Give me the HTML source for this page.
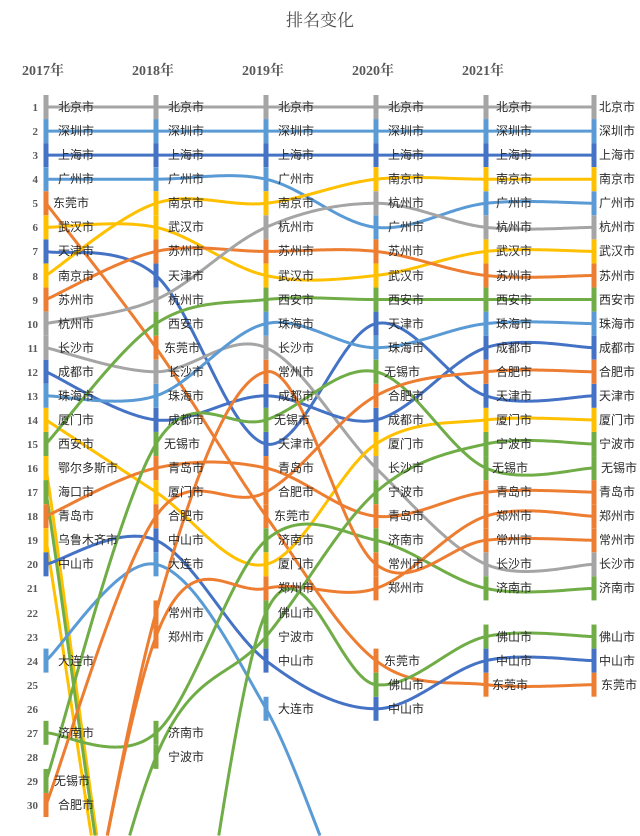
<!DOCTYPE html>
<html><head><meta charset="utf-8">
<style>
html,body{margin:0;padding:0;background:#fff;width:640px;height:836px;overflow:hidden;}
svg{display:block;overflow:hidden;}
.t{font-family:"Liberation Serif","Noto Serif CJK SC",serif;}
.l text{font-family:"Liberation Sans","Noto Sans CJK SC",sans-serif;font-size:12px;fill:#2a2a2a;}
.r text{font-family:"Liberation Serif",serif;font-size:11px;font-weight:bold;fill:#595959;text-anchor:end;}
.y text{font-family:"Liberation Serif","Noto Serif CJK SC",serif;font-size:14px;font-weight:bold;fill:#595959;}
</style></head><body>
<svg id="s" width="640" height="836" viewBox="0 0 640 836" xmlns="http://www.w3.org/2000/svg">
<text class="t" x="320" y="26" text-anchor="middle" font-size="17" fill="#505050">排名变化</text>
<g class="y">
<text x="22" y="75">2017年</text><text x="132" y="75">2018年</text><text x="242" y="75">2019年</text><text x="352" y="75">2020年</text><text x="462" y="75">2021年</text>
</g>
<g class="r">
<text x="38" y="111">1</text><text x="38" y="135">2</text><text x="38" y="159">3</text><text x="38" y="183">4</text><text x="38" y="207">5</text><text x="38" y="231">6</text><text x="38" y="255">7</text><text x="38" y="280">8</text><text x="38" y="304">9</text><text x="38" y="328">10</text><text x="38" y="352">11</text><text x="38" y="376">12</text><text x="38" y="400">13</text><text x="38" y="424">14</text><text x="38" y="448">15</text><text x="38" y="472">16</text><text x="38" y="496">17</text><text x="38" y="520">18</text><text x="38" y="544">19</text><text x="38" y="568">20</text><text x="38" y="592">21</text><text x="38" y="617">22</text><text x="38" y="641">23</text><text x="38" y="665">24</text><text x="38" y="689">25</text><text x="38" y="713">26</text><text x="38" y="737">27</text><text x="38" y="761">28</text><text x="38" y="785">29</text><text x="38" y="809">30</text>
</g>
<g id="lines"></g>
<g id="marks"></g>
<g class="l">
<text x="58" y="111">北京市</text><text x="58" y="135">深圳市</text><text x="58" y="159">上海市</text><text x="58" y="183">广州市</text><text x="53" y="207">东莞市</text><text x="58" y="231">武汉市</text><text x="58" y="255">天津市</text><text x="58" y="280">南京市</text><text x="58" y="304">苏州市</text><text x="58" y="328">杭州市</text><text x="58" y="352">长沙市</text><text x="58" y="376">成都市</text><text x="58" y="400">珠海市</text><text x="58" y="424">厦门市</text><text x="58" y="448">西安市</text><text x="58" y="472">鄂尔多斯市</text><text x="58" y="496">海口市</text><text x="58" y="520">青岛市</text><text x="58" y="544">乌鲁木齐市</text><text x="58" y="568">中山市</text><text x="58" y="665">大连市</text><text x="58" y="737">济南市</text><text x="54" y="785">无锡市</text><text x="58" y="809">合肥市</text>

<text x="168" y="111">北京市</text><text x="168" y="135">深圳市</text><text x="168" y="159">上海市</text><text x="168" y="183">广州市</text><text x="168" y="207">南京市</text><text x="168" y="231">武汉市</text><text x="168" y="255">苏州市</text><text x="168" y="280">天津市</text><text x="168" y="304">杭州市</text><text x="168" y="328">西安市</text><text x="164" y="352">东莞市</text><text x="168" y="376">长沙市</text><text x="168" y="400">珠海市</text><text x="168" y="424">成都市</text><text x="164" y="448">无锡市</text><text x="168" y="472">青岛市</text><text x="168" y="496">厦门市</text><text x="168" y="520">合肥市</text><text x="168" y="544">中山市</text><text x="168" y="568">大连市</text><text x="168" y="617">常州市</text><text x="168" y="641">郑州市</text><text x="168" y="737">济南市</text><text x="168" y="761">宁波市</text>

<text x="278" y="111">北京市</text><text x="278" y="135">深圳市</text><text x="278" y="159">上海市</text><text x="278" y="183">广州市</text><text x="278" y="207">南京市</text><text x="278" y="231">杭州市</text><text x="278" y="255">苏州市</text><text x="278" y="280">武汉市</text><text x="278" y="304">西安市</text><text x="278" y="328">珠海市</text><text x="278" y="352">长沙市</text><text x="278" y="376">常州市</text><text x="278" y="400">成都市</text><text x="274" y="424">无锡市</text><text x="278" y="448">天津市</text><text x="278" y="472">青岛市</text><text x="278" y="496">合肥市</text><text x="274" y="520">东莞市</text><text x="278" y="544">济南市</text><text x="278" y="568">厦门市</text><text x="278" y="592">郑州市</text><text x="278" y="617">佛山市</text><text x="278" y="641">宁波市</text><text x="278" y="665">中山市</text><text x="278" y="713">大连市</text>

<text x="388" y="111">北京市</text><text x="388" y="135">深圳市</text><text x="388" y="159">上海市</text><text x="388" y="183">南京市</text><text x="388" y="207">杭州市</text><text x="388" y="231">广州市</text><text x="388" y="255">苏州市</text><text x="388" y="280">武汉市</text><text x="388" y="304">西安市</text><text x="388" y="328">天津市</text><text x="388" y="352">珠海市</text><text x="384" y="376">无锡市</text><text x="388" y="400">合肥市</text><text x="388" y="424">成都市</text><text x="388" y="448">厦门市</text><text x="388" y="472">长沙市</text><text x="388" y="496">宁波市</text><text x="388" y="520">青岛市</text><text x="388" y="544">济南市</text><text x="388" y="568">常州市</text><text x="388" y="592">郑州市</text><text x="384" y="665">东莞市</text><text x="388" y="689">佛山市</text><text x="388" y="713">中山市</text>

<text x="496" y="111">北京市</text><text x="496" y="135">深圳市</text><text x="496" y="159">上海市</text><text x="496" y="183">南京市</text><text x="496" y="207">广州市</text><text x="496" y="231">杭州市</text><text x="496" y="255">武汉市</text><text x="496" y="280">苏州市</text><text x="496" y="304">西安市</text><text x="496" y="328">珠海市</text><text x="496" y="352">成都市</text><text x="496" y="376">合肥市</text><text x="496" y="400">天津市</text><text x="496" y="424">厦门市</text><text x="496" y="448">宁波市</text><text x="492" y="472">无锡市</text><text x="496" y="496">青岛市</text><text x="496" y="520">郑州市</text><text x="496" y="544">常州市</text><text x="496" y="568">长沙市</text><text x="496" y="592">济南市</text><text x="496" y="641">佛山市</text><text x="496" y="665">中山市</text><text x="492" y="689">东莞市</text>

<text x="599" y="111">北京市</text><text x="599" y="135">深圳市</text><text x="599" y="159">上海市</text><text x="599" y="183">南京市</text><text x="599" y="207">广州市</text><text x="599" y="231">杭州市</text><text x="599" y="255">武汉市</text><text x="599" y="280">苏州市</text><text x="599" y="304">西安市</text><text x="599" y="328">珠海市</text><text x="599" y="352">成都市</text><text x="599" y="376">合肥市</text><text x="599" y="400">天津市</text><text x="599" y="424">厦门市</text><text x="599" y="448">宁波市</text><text x="601" y="472">无锡市</text><text x="599" y="496">青岛市</text><text x="599" y="520">郑州市</text><text x="599" y="544">常州市</text><text x="599" y="568">长沙市</text><text x="599" y="592">济南市</text><text x="599" y="641">佛山市</text><text x="599" y="665">中山市</text><text x="601" y="689">东莞市</text>
</g>
</svg>
<script>
(function(){
var G="#A5A5A5",LB="#5B9BD5",DB="#4472C4",O="#ED7D31",Y="#FFC000",GR="#70AD47";
var X=[46,156,266,376,486,594],YMAX=836;
function yy(r){return 107+(r-1)*24.07;}
var d=[
[G,[1,1,1,1,1,1]],[LB,[2,2,2,2,2,2]],[DB,[3,3,3,3,3,3]],[LB,[4,4,4,6,5,5]],
[O,[5,11,18,24,25,25]],[Y,[6,6,8,8,7,7]],[DB,[7,8,15,10,13,13]],[Y,[8,5,5,4,4,4]],
[O,[9,7,7,7,8,8]],[G,[10,9,6,5,6,6]],[G,[11,12,11,16,20,20]],[DB,[12,14,13,14,11,11]],
[LB,[13,13,10,11,10,10]],[Y,[14,17,20,15,14,14]],[GR,[15,10,9,9,9,9]],
[Y,[16,0,0,0,0,0]],[GR,[17,0,0,0,0,0]],[O,[18,16,16,18,17,17]],[Y,[19,0,0,0,0,0]],
[DB,[20,19,24,26,24,24]],[LB,[24,20,26,0,0,0],36],[GR,[27,27,19,19,21,21]],
[GR,[29,15,14,12,16,16]],[O,[30,18,17,13,12,12]],[O,[0,22,12,20,19,19]],
[O,[0,23,21,21,18,18]],[GR,[0,28,23,17,15,15]],[GR,[0,0,22,25,23,23]]
];
var L=document.getElementById("lines"),M=document.getElementById("marks"),ns="http://www.w3.org/2000/svg";
function bz(a,b,c,e,t){var u=1-t;return u*u*u*a+3*u*u*t*b+3*u*t*t*c+t*t*t*e;}
d.forEach(function(c){
  var col=c[0],r=c[1],miss=c[2]||45;
  var p=r.map(function(v,i){return [X[i],yy(v||miss)];});
  var k=1/6,pts=[];
  for(var i=0;i<p.length-1;i++){
    if(!r[i]&&!r[i+1]) continue;
    var p0=p[i-1]||p[i],p1=p[i],p2=p[i+1],p3=p[i+2]||p2;
    var c1x=p1[0]+(p2[0]-p0[0])*k,c1y=p1[1]+(p2[1]-p0[1])*k;
    var c2x=p2[0]-(p3[0]-p1[0])*k,c2y=p2[1]-(p3[1]-p1[1])*k;
    var seg=[];
    for(var j=0;j<=60;j++){var t=j/60;seg.push([bz(p1[0],c1x,c2x,p2[0],t),bz(p1[1],c1y,c2y,p2[1],t)]);}
    pts.push(seg);
  }
  var s="";
  pts.forEach(function(seg){
    var open=false;
    for(var j=0;j<seg.length;j++){
      var q=seg[j];
      if(q[1]<=YMAX){
        if(!open){
          if(j>0){var a=seg[j-1],f=(YMAX-0.5-a[1])/(q[1]-a[1]);s+=" M"+(a[0]+(q[0]-a[0])*f).toFixed(2)+","+(YMAX-0.5);s+=" L"+q[0].toFixed(2)+","+q[1].toFixed(2);}
          else s+=" M"+q[0].toFixed(2)+","+q[1].toFixed(2);
          open=true;
        } else s+=" L"+q[0].toFixed(2)+","+q[1].toFixed(2);
      } else if(open){
        var a=seg[j-1],f=(YMAX-0.5-a[1])/(q[1]-a[1]);
        s+=" L"+(a[0]+(q[0]-a[0])*f).toFixed(2)+","+(YMAX-0.5);
        open=false;
      }
    }
  });
  if(s){
    var e=document.createElementNS(ns,"path");
    e.setAttribute("d",s);e.setAttribute("fill","none");e.setAttribute("stroke",col);e.setAttribute("stroke-width","3");e.setAttribute("stroke-linecap","butt");
    L.appendChild(e);
  }
  r.forEach(function(v,i){ if(!v)return;
    var m=document.createElementNS(ns,"rect");
    m.setAttribute("x",X[i]-2.5);m.setAttribute("y",yy(v)-12);m.setAttribute("width",5);m.setAttribute("height",24);
    m.setAttribute("fill",col);M.appendChild(m);
  });
});
})();
</script>
</body></html>
